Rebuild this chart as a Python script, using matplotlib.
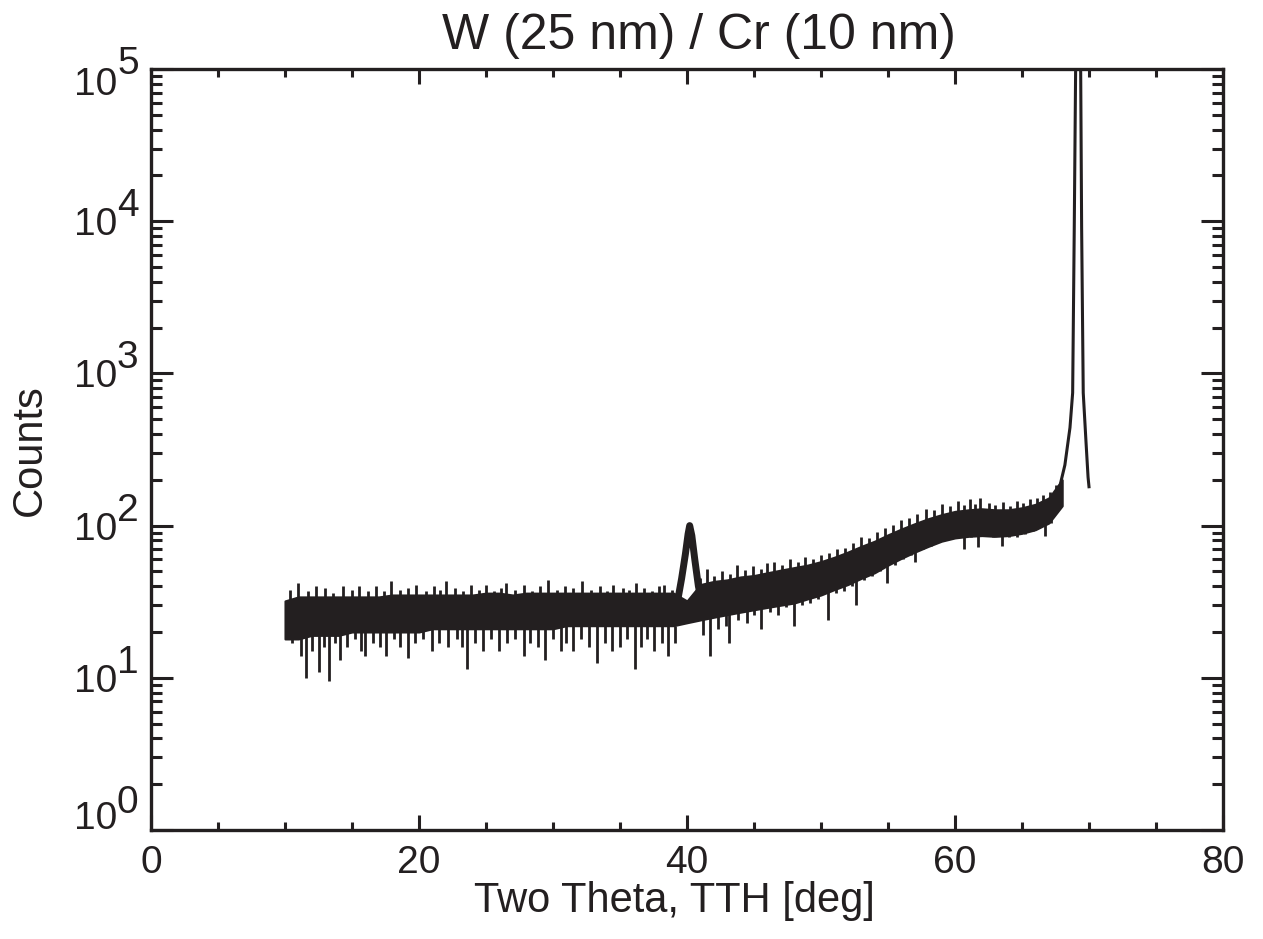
import numpy as np
import matplotlib
matplotlib.use("Agg")
import matplotlib.pyplot as plt
from matplotlib.ticker import MultipleLocator, LogLocator, NullFormatter

# ---------------- data ----------------
title = "W (25 nm) / Cr (10 nm)"
xlabel = "Two Theta, TTH [deg]"
ylabel = "Counts"

# noisy background band: lower / upper envelope of the counts
env_tth = [10, 11, 12, 13, 14, 15, 16, 17, 18, 19, 20, 21, 22, 23, 24, 25, 26, 27, 28, 29,
           30, 31, 32, 33, 34, 35, 36, 37, 38, 39, 40, 41, 42, 43, 44, 45, 46, 47, 48, 49,
           50, 51, 52, 53, 54, 55, 56, 57, 58, 59, 60, 61, 62, 63, 64, 65, 66, 67, 68]
env_lo = [18, 18, 19, 19, 19, 20, 20, 20, 20, 20, 20, 21, 21, 21, 21, 21, 21, 21, 21, 21,
          21, 22, 22, 22, 22, 22, 22, 22, 22, 22, 23, 24, 25, 26, 27, 28, 29, 30, 31, 33,
          35, 38, 41, 45, 49, 55, 61, 67, 73, 79, 83, 85, 86, 85, 86, 89, 94, 104, 135]
env_hi = [32, 34, 34, 34, 34, 34, 34, 34, 35, 35, 35, 35, 35, 35, 35, 36, 36, 35, 36, 36,
          36, 36, 36, 36, 36, 36, 36, 36, 36, 36, 32, 41, 43, 44, 46, 47, 49, 51, 53, 55,
          58, 62, 67, 73, 79, 87, 95, 103, 111, 118, 124, 127, 129, 127, 127, 131, 138, 152, 200]

# isolated noise spikes (hairs): position, start, end
up_tth = [10.4, 11.0, 11.7, 12.3, 13.0, 13.6, 14.3, 15.0, 15.5, 16.2, 16.8, 17.4, 17.9, 18.6,
          19.2, 19.8, 20.5, 21.1, 21.6, 22.0, 22.7, 23.3, 23.9, 24.5, 25.0, 25.6, 26.1, 26.5,
          27.2, 27.8, 28.4, 29.0, 29.6, 30.3, 30.9, 31.5, 32.2, 32.8, 33.5, 34.0, 34.5, 35.2,
          35.7, 36.2, 36.8, 37.4, 37.9, 38.3, 38.9, 39.3,
          41.0, 41.5, 42.0, 42.6, 43.2, 43.7, 44.3, 44.9, 45.5, 46.0, 46.5, 47.1, 47.7, 48.3,
          48.8, 49.4, 50.0, 50.6, 51.2, 51.8, 52.4, 53.0, 53.6, 54.2, 54.8, 55.4, 56.0, 56.6,
          57.2, 57.8, 58.4, 59.0, 59.6, 60.2, 60.7, 61.1, 61.5, 61.9, 62.5, 63.0, 63.6, 64.1,
          64.6, 65.1, 65.6, 66.1, 66.6, 67.1, 67.5]
up_from = [30] * 50 + [
          38, 38, 40, 40, 42, 42, 43, 44, 45, 46, 46, 48, 49, 50,
          50, 52, 54, 56, 58, 62, 65, 68, 72, 76, 82, 88, 92, 98,
          102, 108, 112, 116, 120, 122, 124, 126, 126, 126, 126, 124, 124, 124,
          126, 128, 130, 134, 140, 148, 160]
up_to = [38, 42, 37, 40, 39, 36, 40, 38, 40, 37, 40, 37, 43, 38,
         39, 41, 37, 40, 38, 43, 39, 37, 41, 38, 41, 37, 39, 42,
         38, 41, 37, 40, 44, 38, 40, 39, 43, 38, 40, 37, 41, 39,
         38, 42, 39, 37, 40, 41, 38, 40,
         45, 52, 47, 50, 48, 55, 51, 54, 52, 57, 58, 55, 60, 58,
         62, 60, 64, 66, 70, 71, 77, 84, 83, 91, 97, 101, 109, 113,
         119, 128, 127, 138, 135, 145, 137, 150, 139, 152, 141, 137, 142, 135,
         145, 141, 150, 151, 160, 167, 185]

dn_tth = [10.5, 11.2, 11.6, 12.0, 12.5, 12.9, 13.3, 13.7, 14.1, 14.6, 15.2, 15.7, 16.0, 16.6,
          17.1, 17.5, 18.1, 18.6, 19.2, 19.7, 20.3, 21.0, 21.5, 22.2, 22.8, 23.2, 23.6, 24.2,
          24.8, 25.4, 26.0, 26.6, 27.2, 27.8, 28.3, 28.9, 29.4, 30.0, 30.6, 31.0, 31.5, 32.1,
          32.7, 33.3, 33.9, 34.4, 35.0, 35.5, 36.1, 36.6, 37.0, 37.5, 38.1, 38.6, 39.1,
          41.2, 41.7, 42.3, 42.9, 43.1, 43.8, 44.5, 45.0, 45.5, 46.2, 46.8, 47.4, 48.0, 48.6,
          49.2, 49.8, 50.5, 51.1, 51.7, 52.3, 52.6, 53.2, 53.8, 54.4, 54.9, 55.5, 56.1, 56.7,
          57.0, 57.6, 58.2, 58.8, 59.4, 60.0, 60.7, 61.2, 61.7, 62.3, 62.8, 63.5, 64.0, 64.6,
          65.2, 65.8, 66.3, 66.7, 67.2]
dn_from = [22] * 55 + [
          28, 28, 28, 30, 30, 30, 31, 32, 33, 34, 35, 36, 37, 38,
          39, 40, 42, 44, 47, 50, 50, 54, 58, 62, 64, 68, 72, 76,
          78, 82, 86, 90, 92, 96, 98, 100, 100, 100, 100, 100, 100, 100,
          104, 108, 112, 114, 120]
dn_to = [17, 14, 10, 15, 11, 16, 9.5, 17, 13, 16, 18, 15, 14, 17,
         16, 14, 18, 16, 13.5, 17, 18, 15, 17, 16, 18, 16, 11.5, 17,
         15, 18, 15, 17, 18, 14, 17, 16, 13, 18, 15, 17, 15, 18,
         16, 12.5, 17, 15, 16, 18, 11.5, 16, 18, 15, 17, 14, 17,
         19, 14, 21, 22, 17, 24, 23, 26, 21, 27, 26, 29, 22, 30,
         31, 33, 24, 36, 37, 40, 30, 44, 47, 50, 42, 55, 60, 64,
         58, 70, 74, 78, 80, 84, 70, 84, 72, 85, 84, 74, 84, 84,
         88, 92, 97, 85, 104]

# Cr (110) peak near 40 deg
pk1_tth = [39.3, 39.6, 39.88, 40.08, 40.2, 40.36, 40.58, 40.85, 41.15]
pk1_cnt = [32, 45, 65, 88, 100, 86, 60, 40, 30]

# substrate peak near 69 deg (off scale)
pk2_tth = [67.6, 68.2, 68.58, 68.78, 68.9, 69.0, 69.2, 69.38, 69.45, 69.57, 69.78, 69.93, 70.0]
pk2_cnt = [150, 250, 440, 745, 9100, 95000, 300000, 95000, 9100, 745, 350, 208, 180]

x_ticks = [0, 20, 40, 60, 80]
y_exponents = [0, 1, 2, 3, 4, 5]

# ---------------- drawing ----------------
INK = "#231f20"
plt.rcParams["font.family"] = ["Liberation Sans", "DejaVu Sans"]

fig = plt.figure(figsize=(12.63, 9.39), dpi=100)
ax = fig.add_axes([151 / 1263, 1 - 830 / 939, (1223 - 151) / 1263, (830 - 69) / 939])

ax.fill_between(env_tth, env_lo, env_hi, color=INK, lw=1.5, zorder=2)
ax.vlines(up_tth, up_from, up_to, color=INK, lw=2.0, zorder=2)
ax.vlines(dn_tth, dn_from, dn_to, color=INK, lw=2.0, zorder=2)
ax.plot(pk1_tth, pk1_cnt, color=INK, lw=5.0, solid_joinstyle="round", zorder=3)
ax.plot(pk2_tth, pk2_cnt, color=INK, lw=2.2, zorder=3)

ax.set_xlim(0, 80)
ax.set_yscale("log")
ax.set_ylim(1, 1e5)

ax.xaxis.set_minor_locator(MultipleLocator(5))
ax.set_xticks(x_ticks)
ax.set_xticklabels([str(v) for v in x_ticks])
ax.yaxis.set_major_locator(LogLocator(base=10, numticks=10))
ax.yaxis.set_minor_locator(LogLocator(base=10, subs=np.arange(2, 10), numticks=20))
ax.yaxis.set_major_formatter(NullFormatter())
ax.yaxis.set_minor_formatter(NullFormatter())

for s in ax.spines.values():
    s.set_linewidth(2.4)
    s.set_color(INK)

ax.tick_params(axis="both", which="both", direction="in", top=True, right=True,
               color=INK, width=2.2)
ax.tick_params(axis="x", which="major", length=11, labelsize=28, pad=11, labelcolor=INK)
ax.tick_params(axis="x", which="minor", length=5.5)
ax.tick_params(axis="y", which="major", length=16)
ax.tick_params(axis="y", which="minor", length=8)

# IDL-style y labels: "10" with a full-size exponent
for k in y_exponents:
    if k == y_exponents[0]:
        b10, bex = 1, 17
    elif k == y_exponents[-1]:
        b10, bex = -26, -5
    else:
        b10, bex = -14, 5
    ax.annotate("10", xy=(0, 10.0 ** k), xycoords=("axes fraction", "data"),
                xytext=(-34, b10), textcoords="offset pixels",
                ha="right", va="baseline", fontsize=28, color=INK, annotation_clip=False)
    ax.annotate(str(k), xy=(0, 10.0 ** k), xycoords=("axes fraction", "data"),
                xytext=(-34, bex), textcoords="offset pixels",
                ha="left", va="baseline", fontsize=28, color=INK, annotation_clip=False)

fig.text(674 / 1263, 1 - 912 / 939, xlabel, ha="center", va="baseline",
         fontsize=30, color=INK)
fig.text(30 / 1263, 1 - 450 / 939, ylabel, rotation=90, ha="center", va="center",
         fontsize=30, color=INK)
fig.text(699 / 1263, 1 - 36 / 939, title, ha="center", va="center", fontsize=36, color=INK)

fig.savefig("out.png", dpi=100)
